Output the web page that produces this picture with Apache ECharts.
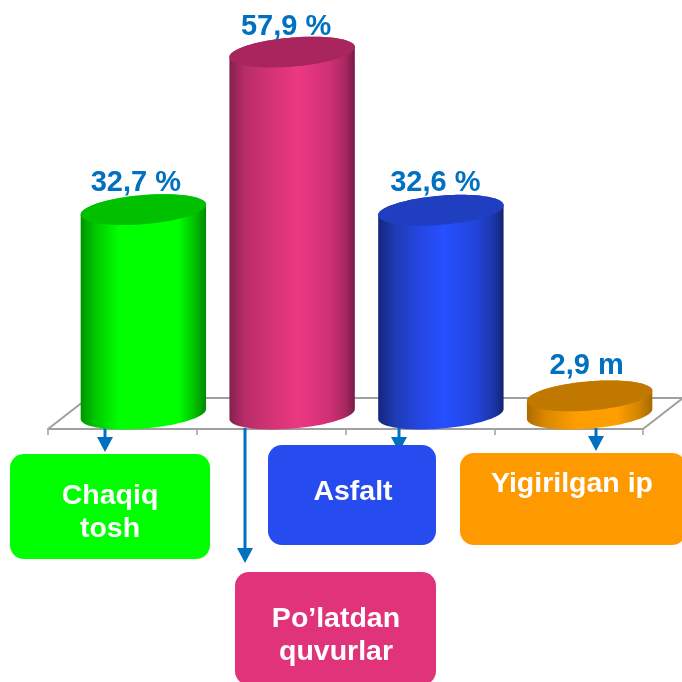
<!DOCTYPE html>
<html><head><meta charset="utf-8">
<style>html,body{margin:0;padding:0;background:#fff}#c{width:682px;height:682px}</style>
<script src="https://cdn.jsdelivr.net/npm/echarts@6/dist/echarts.min.js"></script>
</head><body><div id="c"></div>
<script>
// --- data ---
const categories = ['Chaqiq\ntosh', 'Po’latdan\nquvurlar', 'Asfalt', 'Yigirilgan ip'];
const values = [32.7, 57.9, 32.6, 2.9];
const valueLabels = ['32,7 %', '57,9 %', '32,6 %', '2,9 m'];

// --- styles & layout ---
const FONT = '"Liberation Sans", Arial, sans-serif';
const BLUE = '#0070c0';
const skins = [
  {top:'#00c000', side:[[0,'#009400'],[.12,'#00c800'],[.3,'#00ff00'],[.78,'#00ff00'],[.9,'#00c400'],[1,'#008a00']]},
  {top:'#a8265d', side:[[0,'#84204e'],[.12,'#b82c68'],[.3,'#d03274'],[.55,'#ec3882'],[.8,'#d03074'],[.92,'#aa2862'],[1,'#781c46']]},
  {top:'#1f3fc0', side:[[0,'#14267c'],[.14,'#1e3cb4'],[.32,'#2446e0'],[.52,'#2650ff'],[.78,'#2244dc'],[.92,'#1c36a8'],[1,'#122372']]},
  {top:'#c07800', side:[[0,'#ad6a00'],[.14,'#d88800'],[.4,'#ff9e00'],[.72,'#ff9e00'],[.9,'#d08300'],[1,'#a96800']]}
];
const boxes = [
  {x:10, y:454, w:200, h:105, fill:'#00ff00', tx:110, ty:513},
  {x:235, y:572, w:201, h:113, fill:'#e0337a', tx:336, ty:636},
  {x:268, y:445, w:168, h:100, fill:'#264bee', tx:353, ty:492},
  {x:460, y:453, w:226, h:92, fill:'#ff9900', tx:572, ty:484}
];
const arrows = [
  {x:105, y0:428, tip:452},
  {x:245, y0:428, tip:563},
  {x:399, y0:428, tip:452},
  {x:596, y0:428, tip:451}
];
const labelNudge = [[-7.5,-27],[-6,-25],[-5.5,-27],[-3,-30]];
const DEPTH_X = 21, RX = 62.7, RY = 14.6, TILT = 5, HEAD_W = 8, HEAD_H = 15;

function arc(cx, cy, from, to, n) {
  const pts = [];
  for (let i = 0; i <= n; i++) {
    const t = from + (to - from) * i / n;
    pts.push([cx + RX * Math.cos(t), cy + RY * Math.sin(t) - TILT * Math.cos(t)]);
  }
  return pts;
}

function renderCylinder(params, api) {
  const i = params.dataIndex;
  const top = api.coord([i, api.value(1)]);
  const base = api.coord([i, 0]);
  const cx = top[0] + DEPTH_X;
  const skin = skins[i];
  const side = arc(cx, base[1], Math.PI, 0, 48).concat(arc(cx, top[1], 0, -Math.PI, 48));
  const n = labelNudge[i];
  return {type:'group', children:[
    {type:'polygon', shape:{points:side},
     style:{fill:new echarts.graphic.LinearGradient(0,0,1,0,skin.side.map(s=>({offset:s[0],color:s[1]})))}},
    {type:'polygon', shape:{points:arc(cx, top[1], 0, 2*Math.PI, 96)}, style:{fill:skin.top}},
    {type:'text', x:cx + n[0], y:top[1] + n[1],
     style:{text:valueLabels[i], fill:BLUE, font:'bold 29px '+FONT, align:'center', verticalAlign:'middle'}}
  ]};
}

function renderFloor(params, api) {
  const s = params.coordSys, b = s.y + s.height, r = s.x + s.width;
  return {type:'polyline', silent:true,
    shape:{points:[[s.x, b+15],[s.x+40, b-16],[r+40, b-16],[r, b+15]]},
    style:{fill:null, stroke:'#a0a0a0', lineWidth:2}};
}

const graphics = [];
arrows.forEach(a => {
  graphics.push({type:'line', z:1, shape:{x1:a.x,y1:a.y0,x2:a.x,y2:a.tip-HEAD_H}, style:{stroke:BLUE,lineWidth:3}});
  graphics.push({type:'polygon', z:1, shape:{points:[[a.x-HEAD_W,a.tip-HEAD_H],[a.x+HEAD_W,a.tip-HEAD_H],[a.x,a.tip]]}, style:{fill:BLUE}});
});
boxes.forEach((b,i) => {
  graphics.push({type:'rect', z:2, shape:{x:b.x,y:b.y,width:b.w,height:b.h,r:14}, style:{fill:b.fill}});
  graphics.push({type:'text', z:3, x:b.tx, y:b.ty,
    style:{text:categories[i], fill:'#fff', font:'bold 28.5px '+FONT, lineHeight:33, align:'center', verticalAlign:'middle'}});
});

const chart = echarts.init(document.getElementById('c'), null, {renderer:'canvas'});
chart.setOption({
  animation:false,
  backgroundColor:'#fff',
  grid:{left:48, width:595, top:39, height:375},
  xAxis:{type:'category', data:categories, offset:15,
    axisLine:{onZero:false, lineStyle:{color:'#a0a0a0', width:2}},
    axisTick:{show:true, inside:false, length:6, lineStyle:{color:'#a0a0a0', width:1.5}},
    axisLabel:{show:false}},
  yAxis:{type:'value', min:0, max:60, show:false, splitLine:{show:false}},
  graphic:graphics,
  series:[
    {type:'custom', z:1, clip:false, silent:true, renderItem:renderFloor, data:[[0,0]], encode:{x:0,y:1}},
    {type:'custom', z:5, clip:false, renderItem:renderCylinder, encode:{x:0,y:1},
     data:values.map((v,i)=>[i,v])}
  ]
});
</script></body></html>
